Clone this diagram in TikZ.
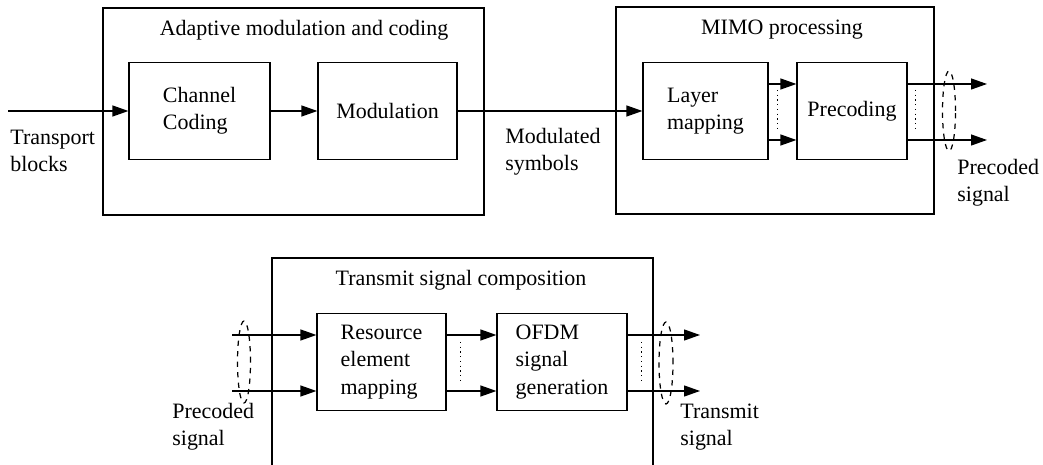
\documentclass[tikz,border=0pt]{standalone}
\usepackage{fontspec}
\setmainfont{Liberation Serif}
\usepackage{tikz}
\usetikzlibrary{calc}
\usetikzlibrary{arrows.meta}

\tikzset{
	blk/.style={draw,line width=0.7pt,align=left,minimum height=1.95cm,inner sep=2pt},
	grp/.style={draw,line width=0.7pt,minimum width=#1,minimum height=4.14cm},
	sig/.style={line width=0.7pt,-{Triangle[length=3.2mm,width=2.2mm]}},
	lbl/.style={align=left,inner sep=0pt},
	dots/.style={dotted,line width=0.7pt},
	bundle/.style={dashed,line width=0.7pt}
}

\begin{document}
\begin{tikzpicture}[x=0.02cm,y=-0.02cm,font=\fontsize{12.5}{15.5}\selectfont]
	\useasboundingbox (0,0) rectangle (1043,465);

	\node[grp=7.62cm] (amc) at (293.5,111.5) {};
	\node (amct) at (304,30) {Adaptive modulation and coding};
	\node[blk,minimum width=2.82cm] (chc) at (199.5,111) {Channel\\Coding};
	\node[blk,minimum width=2.78cm] (mod) at (387.5,111) {Modulation};

	\node[grp=6.36cm] (mimo) at (775,110.5) {};
	\node (mimot) at (782,30) {MIMO processing};
	\node[blk,minimum width=2.5cm] (lay) at (705.5,111) {Layer\\mapping};
	\node[blk,minimum width=2.2cm] (pre) at (852,111) {Precoding};

	\draw[line width=0.7pt] (272,466) |- (653,258) -- (653,466);
	\node (tsct) at (461,280) {Transmit signal composition};
	\node[blk,minimum width=2.58cm] (rem) at (381.5,362) {Resource\\element\\mapping};
	\node[blk,minimum width=2.6cm] (ofdm) at (562,362) {OFDM\\signal\\generation};

	\coordinate (tin) at (8,111);
	\coordinate (pout) at (987,111);
	\coordinate (rin) at (232,362);
	\coordinate (oout) at (700,362);

	\draw[sig] (tin) -- (chc);
	\draw[sig] (chc) -- (mod);
	\draw[sig] (mod) -- (lay);
	\draw[sig] ($(lay.east)+(0,-27)$) -- ($(pre.west)+(0,-27)$);
	\draw[sig] ($(lay.east)+(0,29)$) -- ($(pre.west)+(0,29)$);
	\draw[sig] ($(pre.east)+(0,-27)$) -- ($(pout)+(0,-27)$);
	\draw[sig] ($(pre.east)+(0,29)$) -- ($(pout)+(0,29)$);
	\draw[dots] ($(lay.east)+(9,-21)$) -- ($(lay.east)+(9,19)$);
	\draw[dots] ($(pre.east)+(8,-21)$) -- ($(pre.east)+(8,19)$);
	\draw[bundle] (949,111) ellipse [x radius=0.13cm,y radius=0.8cm];

	\draw[sig] ($(rin)+(0,-27)$) -- ($(rem.west)+(0,-27)$);
	\draw[sig] ($(rin)+(0,29)$) -- ($(rem.west)+(0,29)$);
	\draw[sig] ($(rem.east)+(0,-27)$) -- ($(ofdm.west)+(0,-27)$);
	\draw[sig] ($(rem.east)+(0,29)$) -- ($(ofdm.west)+(0,29)$);
	\draw[sig] ($(ofdm.east)+(0,-27)$) -- ($(oout)+(0,-27)$);
	\draw[sig] ($(ofdm.east)+(0,29)$) -- ($(oout)+(0,29)$);
	\draw[dots] ($(rem.east)+(14,-20)$) -- ($(rem.east)+(14,18)$);
	\draw[dots] ($(ofdm.east)+(14,-20)$) -- ($(ofdm.east)+(14,18)$);
	\draw[bundle] (244,362) ellipse [x radius=0.13cm,y radius=0.82cm];
	\draw[bundle] (666,363) ellipse [x radius=0.14cm,y radius=0.82cm];

	\node[lbl,anchor=west] (tb) at (10,151) {Transport\\blocks};
	\node[lbl,anchor=west] (ms) at (505,152) {Modulated\\symbols};
	\node[lbl,anchor=west] (pst) at (957,183) {Precoded\\signal};
	\node[lbl,anchor=west] (psb) at (172,427) {Precoded\\signal};
	\node[lbl,anchor=west] (ts) at (680,427) {Transmit\\signal};
\end{tikzpicture}
\end{document}
